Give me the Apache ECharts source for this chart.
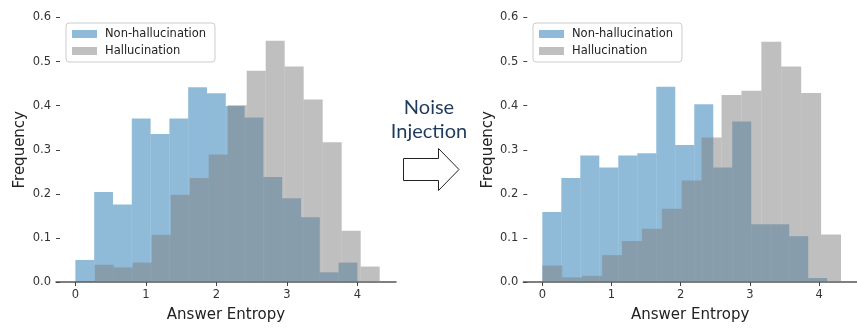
<!DOCTYPE html>
<html>
<head>
<meta charset="utf-8">
<script src="https://cdn.jsdelivr.net/npm/echarts@6/dist/echarts.min.js"></script>
<style>
html,body{margin:0;padding:0;background:#fff;}
#chart{width:857px;height:328px;}
</style>
</head>
<body>
<div id="chart"></div>
<script>
//histogram data
var xTicks=[0,1,2,3,4];

//left panel (before noise injection)
var leftNonStart=0, leftNonWidth=0.2667;
var leftNon=[0.05,0.204,0.176,0.371,0.336,0.371,0.442,0.428,0.399,0.373,0.238,0.19,0.147,0.022,0.044];
var leftHalStart=0.274, leftHalWidth=0.2695;
var leftHal=[0.039,0.033,0.044,0.107,0.198,0.236,0.289,0.401,0.479,0.547,0.489,0.414,0.317,0.116,0.035];

//right panel (after noise injection)
var rightNonStart=0, rightNonWidth=0.2745;
var rightNon=[0.159,0.236,0.287,0.26,0.287,0.292,0.443,0.311,0.403,0.26,0.364,0.131,0.131,0.104,0.009];
var rightHalStart=0, rightHalWidth=0.2878;
var rightHal=[0.0375,0.0105,0.014,0.061,0.093,0.121,0.166,0.23,0.328,0.424,0.434,0.545,0.489,0.429,0.108];

var blue='rgba(31,119,180,0.5)';
var gray='rgba(128,128,128,0.5)';

function bins(start,width,heights){
    return heights.map(function(h,i){
        return [start+i*width,start+(i+1)*width,h];
    });
}

function renderBar(params,api){
    var p0=api.coord([api.value(0),api.value(2)]);
    var p1=api.coord([api.value(1),0]);
    return {
        type:'rect',
        shape:{x:p0[0],y:p0[1],width:p1[0]-p0[0],height:p1[1]-p0[1]},
        style:{fill:api.visual('color')}
    };
}

var chart=echarts.init(document.getElementById('chart'));

function grid(left){
    return {left:left,top:17.5,width:340,height:266.2};
}
function xAxis(idx){
    return {
        type:'value',gridIndex:idx,min:-0.275,max:4.548,
        name:'Answer Entropy',nameLocation:'middle',nameGap:26,
        nameTextStyle:{color:'#222',fontSize:15,fontFamily:'DejaVu Sans'},
        axisLine:{show:true,onZero:false,lineStyle:{color:'#555',width:1.5}},
        axisTick:{show:true,length:4,inside:false,customValues:xTicks,lineStyle:{color:'#444'}},
        axisLabel:{customValues:xTicks,margin:7,color:'#333',fontSize:11.5,fontFamily:'DejaVu Sans'},
        splitLine:{show:false}
    };
}
function yAxis(idx){
    return {
        type:'value',gridIndex:idx,min:0,max:0.6,interval:0.1,
        name:'Frequency',nameLocation:'middle',nameGap:28,
        nameTextStyle:{color:'#222',fontSize:15,fontFamily:'DejaVu Sans'},
        axisLine:{show:false,onZero:false},
        axisTick:{show:true,length:4,inside:true,lineStyle:{color:'#444'}},
        axisLabel:{margin:5,color:'#333',fontSize:11.5,fontFamily:'DejaVu Sans',
            formatter:function(v){return v.toFixed(1);}},
        splitLine:{show:false}
    };
}
function legend(left){
    return {
        left:left,top:23,orient:'vertical',
        itemWidth:25,itemHeight:8,itemGap:5,
        padding:[5,9,5,6],
        borderColor:'#ccc',borderWidth:1,borderRadius:3,backgroundColor:'#fff',
        textStyle:{color:'#222',fontSize:11.5,fontFamily:'DejaVu Sans',padding:[0,0,0,3]},
        data:[
            {name:'Non-hallucination',icon:'rect',itemStyle:{color:blue}},
            {name:'Hallucination',icon:'rect',itemStyle:{color:gray}}
        ]
    };
}

var option={
    animation:false,
    backgroundColor:'#fff',
    grid:[grid(56),grid(523.3)],
    xAxis:[xAxis(0),xAxis(1)],
    yAxis:[yAxis(0),yAxis(1)],
    legend:[legend(66),legend(533)],
    graphic:[
        {type:'text',style:{text:'Noise',x:429,y:108,align:'center',verticalAlign:'middle',
            fill:'#1f3b5c',fontSize:20,fontFamily:'Lato'}},
        {type:'text',style:{text:'Injection',x:429,y:132,align:'center',verticalAlign:'middle',
            fill:'#1f3b5c',fontSize:20,fontFamily:'Lato'}},
        {type:'polygon',shape:{points:[[403.5,158.5],[438.5,158.5],[438.5,148.5],[459,169.5],[438.5,190.5],[438.5,180.5],[403.5,180.5]]},
            style:{fill:'#fff',stroke:'#222',lineWidth:1}}
    ],
    series:[
        {name:'Non-hallucination',type:'custom',xAxisIndex:0,yAxisIndex:0,itemStyle:{color:blue},
            renderItem:renderBar,encode:{x:[0,1],y:2},data:bins(leftNonStart,leftNonWidth,leftNon)},
        {name:'Hallucination',type:'custom',xAxisIndex:0,yAxisIndex:0,itemStyle:{color:gray},
            renderItem:renderBar,encode:{x:[0,1],y:2},data:bins(leftHalStart,leftHalWidth,leftHal)},
        {name:'Non-hallucination',type:'custom',xAxisIndex:1,yAxisIndex:1,itemStyle:{color:blue},
            renderItem:renderBar,encode:{x:[0,1],y:2},data:bins(rightNonStart,rightNonWidth,rightNon)},
        {name:'Hallucination',type:'custom',xAxisIndex:1,yAxisIndex:1,itemStyle:{color:gray},
            renderItem:renderBar,encode:{x:[0,1],y:2},data:bins(rightHalStart,rightHalWidth,rightHal)}
    ]
};
chart.setOption(option);
</script>
</body>
</html>
